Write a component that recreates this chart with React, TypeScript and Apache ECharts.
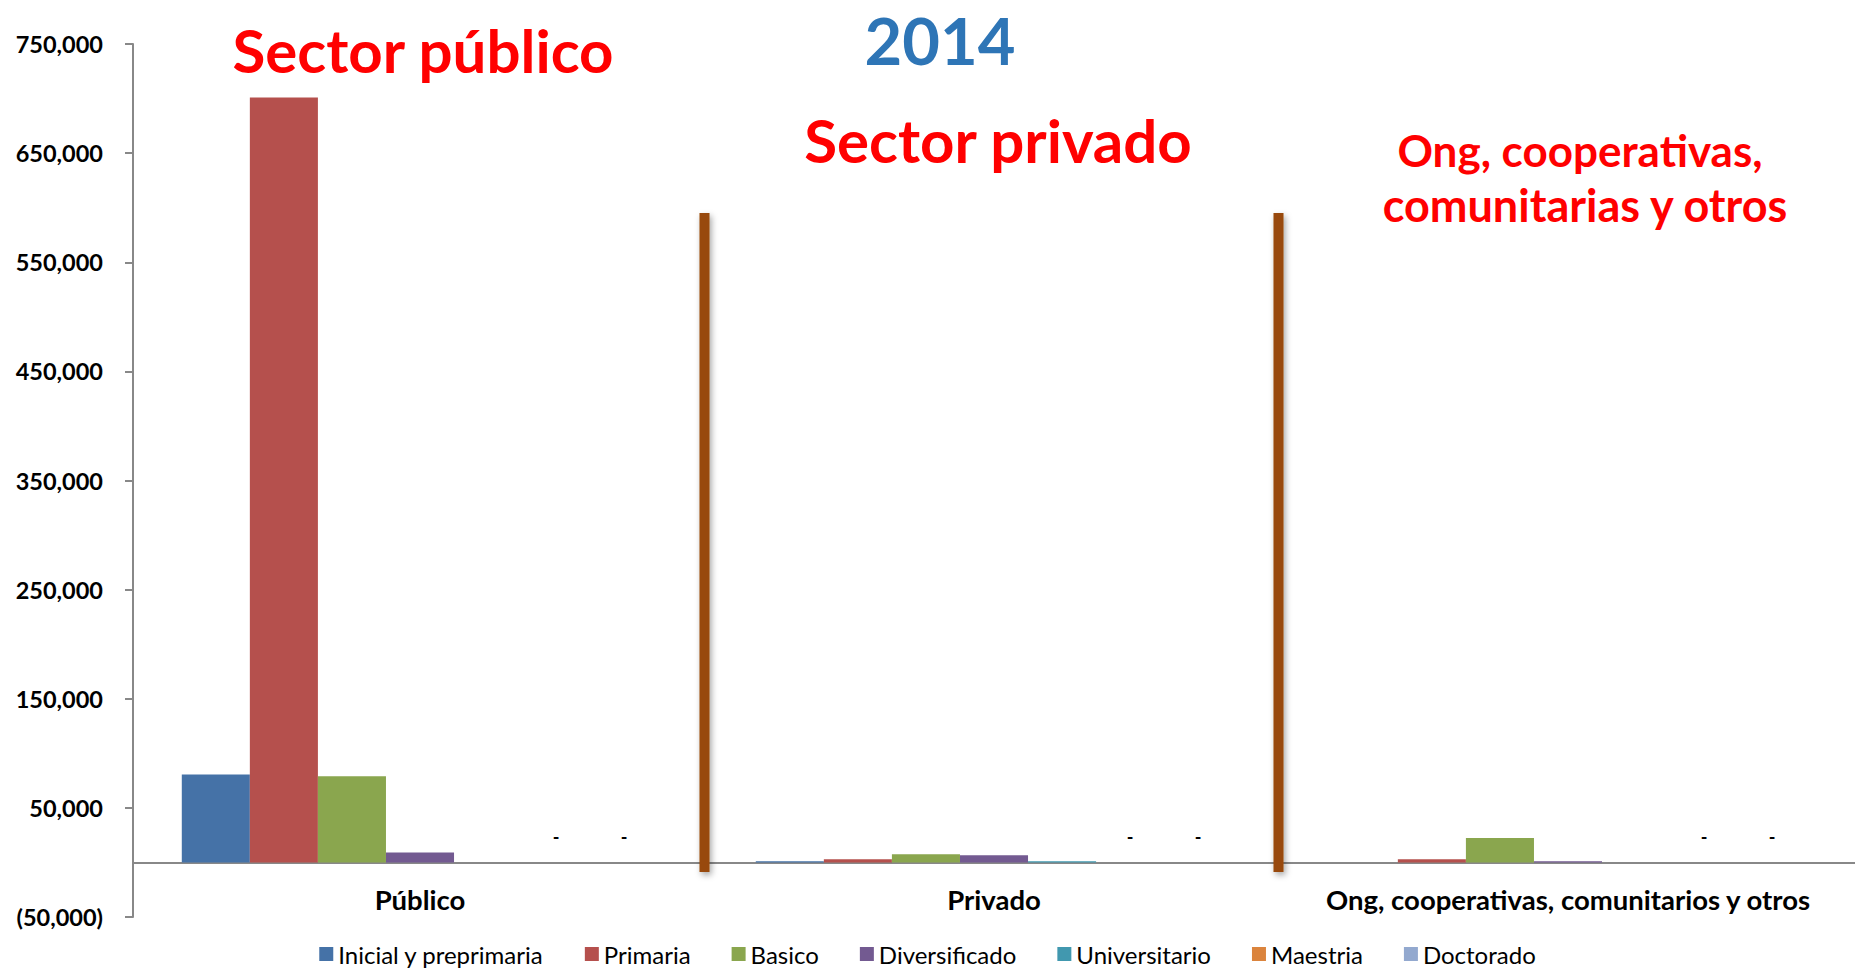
import React, { useEffect, useRef } from "react";
import * as echarts from "echarts";

const categories = ["Público", "Privado", "Ong, cooperativas, comunitarios y otros"];
const seriesNames = [
  "Inicial y preprimaria",
  "Primaria",
  "Basico",
  "Diversificado",
  "Universitario",
  "Maestria",
  "Doctorado",
];
const inicial = [80500, 1200, 0];
const primaria = [701000, 3000, 3000];
const basico = [79000, 7500, 22500];
const diversificado = [9000, 6500, 1000];
const universitario = [0, 1000, 0];
const maestria = [0, 0, 0];
const doctorado = [0, 0, 0];
const seriesValues = [inicial, primaria, basico, diversificado, universitario, maestria, doctorado];
const colors = ["#4572A7", "#B5504D", "#8AA64E", "#735A91", "#4198AF", "#DB843D", "#93A9CF"];
const dashLabelSeries = ["Maestria", "Doctorado"];

const FONT = "Lato";

function fmt(v: number) {
  const s = Math.abs(v).toLocaleString("en-US");
  return v < 0 ? `(${s})` : s;
}

export default function App() {
  const ref = useRef<HTMLDivElement>(null);
  useEffect(() => {
    if (!ref.current) return;
    const chart = echarts.init(ref.current, null, { renderer: "svg" });
    const titleText = (text: string, x: number, y: number, size: number, fill: string) => ({
      type: "text",
      x,
      y,
      style: {
        text,
        fill,
        fontSize: size,
        lineHeight: Math.round(size * 0.9),
        fontWeight: "bold",
        fontFamily: FONT,
        align: "center",
        verticalAlign: "middle",
        textAlign: "center",
        textVerticalAlign: "middle",
      },
      z: 100,
    });
    const divider = (x: number) => ({
      type: "rect",
      shape: { x: x - 5, y: 213, width: 10, height: 659 },
      style: { fill: "#984807", shadowBlur: 6, shadowColor: "rgba(0,0,0,0.35)", shadowOffsetX: 2, shadowOffsetY: 3 },
      z: 50,
    });
    chart.setOption({
      animation: false,
      color: colors,
      grid: { left: 133, right: 0, top: 44, bottom: 53, containLabel: false },
      legend: {
        top: 937,
        left: "center",
        itemWidth: 14,
        itemHeight: 14,
        itemGap: 41,
        icon: "rect",
        data: seriesNames,
        textStyle: { fontFamily: FONT, fontSize: 24, color: "#000", lineHeight: 24 },
      },
      xAxis: {
        type: "category",
        data: categories,
        axisLine: { onZero: true, lineStyle: { color: "#888", width: 2 } },
        axisTick: { show: false },
        axisLabel: {
          interval: 0,
          fontFamily: FONT,
          fontWeight: "bold",
          fontSize: 27.5,
          color: "#000",
          margin: -18,
          verticalAlign: "middle",
          lineHeight: 28,
        },
      },
      yAxis: {
        type: "value",
        min: -50000,
        max: 750000,
        interval: 100000,
        splitLine: { show: false },
        axisLine: { show: true, lineStyle: { color: "#888", width: 2 } },
        axisTick: { show: true, length: 8, lineStyle: { color: "#888", width: 2 } },
        axisLabel: {
          fontFamily: FONT,
          fontWeight: "bold",
          fontSize: 23.5,
          color: "#000",
          margin: 30,
          formatter: (v: number) => fmt(v),
        },
      },
      series: seriesNames.map((name, i) => ({
        name,
        type: "bar",
        data: seriesValues[i],
        barGap: "0%",
        barCategoryGap: "17%",
        label: dashLabelSeries.includes(name)
          ? {
              show: true,
              position: "top",
              distance: 16,
              formatter: (p: any) => (p.value === 0 ? "-" : fmt(p.value)),
              fontFamily: FONT,
              fontWeight: "bold",
              fontSize: 18,
              color: "#000",
            }
          : { show: false },
      })),
      graphic: [
        divider(704.5),
        divider(1278.5),
        titleText("2014", 940, 40, 65, "#2E75B6"),
        titleText("Sector público", 423, 50, 60, "#FF0000"),
        titleText("Sector privado", 998, 140, 60, "#FF0000"),
        titleText("Ong, cooperativas,", 1580, 150, 44, "#FF0000"),
        titleText("comunitarias y otros", 1585, 205, 45, "#FF0000"),
      ],
    });
    return () => chart.dispose();
  }, []);
  return (
    <div
      ref={ref}
      style={{ position: "absolute", left: 0, top: 0, width: 1855, height: 970, background: "#fff" }}
    />
  );
}
